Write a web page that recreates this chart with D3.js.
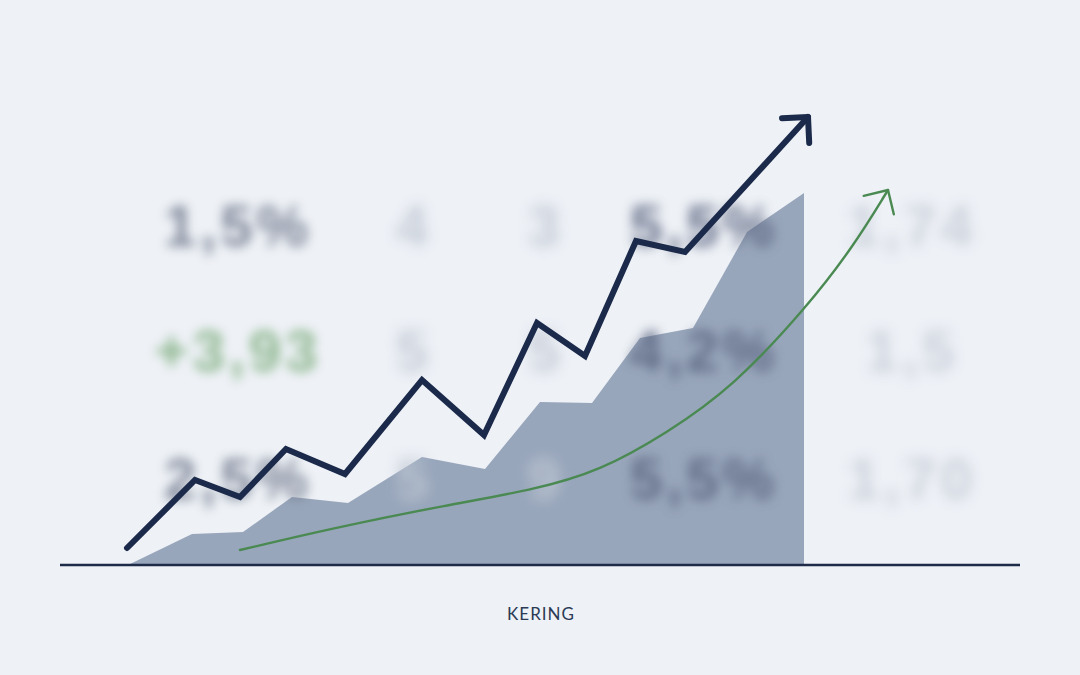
<!DOCTYPE html>
<html>
<head>
<meta charset="utf-8">
<script src="https://cdn.jsdelivr.net/npm/d3@7"></script>
<style>
  html, body { margin: 0; padding: 0; background: #eef1f6; }
  svg { display: block; }
</style>
</head>
<body>
<svg id="chart" width="1080" height="675"></svg>
<script>
// ---------------- DATA ----------------
const label = "KERING";

// main (navy) zig-zag series: period, value
const mainX = [67, 135, 180, 226, 285, 362, 424, 477, 525, 576, 625, 748];
const mainY = [17, 85, 68, 116, 91, 185, 130, 242, 209, 324, 313, 448];

// filled area series
const areaX = [68, 132, 183, 232, 288, 362, 425, 480, 532, 580, 633, 687, 744];
const areaY = [0, 31, 33, 68, 62, 108, 96, 163, 162, 227, 237, 333, 372];

// green trend curve
const trendX = [180, 273, 387, 473, 540, 607, 673, 747, 793, 828];
const trendY = [15, 37, 60, 75, 94, 132, 178, 258, 318, 375];

// blurred background figures (rows x columns)
const bgRow1 = ["1,5%", "4", "3", "5,5%", "1,74"];
const bgRow2 = ["+3,93", "5", "5", "4,2%", "1,5"];
const bgRow3 = ["2,5%", "5", "9", "5,5%", "1,70"];

// ---------------- LAYOUT ----------------
const W = 1080, H = 675;
const plot = { left: 60, right: 1020, top: 65, bottom: 565 };
const colCenters = [238, 414, 546, 704, 912];
const rowBaselines = [246, 371, 499];
const colStyle = [
  { fill: "#727c8e", blur: 5.5 },
  { fill: "#c0c7d3", blur: 6.5 },
  { fill: "#c0c7d3", blur: 6.5 },
  { fill: "#5a6580", blur: 6 },
  { fill: "#c6ccd7", blur: 6.5 }
];

const svg = d3.select("#chart");
const defs = svg.append("defs");

[5.5, 6, 6.5].forEach(s => {
  defs.append("filter").attr("id", "blur" + String(s).replace(".", "_"))
    .attr("x", "-30%").attr("y", "-60%").attr("width", "160%").attr("height", "220%")
    .append("feGaussianBlur").attr("stdDeviation", s);
});

function chevron(id, color, len, sw) {
  const a = len / Math.SQRT2;
  defs.append("marker").attr("id", id)
    .attr("markerUnits", "userSpaceOnUse")
    .attr("viewBox", `${-a - sw} ${-a - sw} ${a + 2 * sw} ${2 * a + 2 * sw}`)
    .attr("refX", 0).attr("refY", 0)
    .attr("markerWidth", a + 2 * sw).attr("markerHeight", 2 * a + 2 * sw)
    .attr("orient", "auto")
    .append("path")
    .attr("d", `M${-a},${-a}L0,0L${-a},${a}`)
    .attr("fill", "none").attr("stroke", color)
    .attr("stroke-width", sw).attr("stroke-linecap", "round").attr("stroke-linejoin", "round");
}
chevron("arrowNavy", "#1b2a4a", 26, 6);
chevron("arrowGreen", "#4a8a52", 25, 2.4);

svg.append("rect").attr("width", W).attr("height", H).attr("fill", "#eef1f6");

// scales
const x = d3.scaleLinear().domain([0, 960]).range([plot.left, plot.right]);
const y = d3.scaleLinear().domain([0, 500]).range([plot.bottom, plot.top]);

// area
const areaData = areaX.map((v, i) => ({ x: v, y: areaY[i] }));
svg.append("path")
  .datum(areaData)
  .attr("fill", "#98a6bb")
  .attr("d", d3.area().x(d => x(d.x)).y0(y(0)).y1(d => y(d.y)));

// blurred background numbers
[bgRow1, bgRow2, bgRow3].forEach((row, r) => {
  row.forEach((t, c) => {
    const st = colStyle[c];
    const fill = (r === 1 && c === 0) ? "#82b083" : st.fill;
    svg.append("text")
      .attr("x", colCenters[c]).attr("y", rowBaselines[r])
      .attr("text-anchor", "middle")
      .attr("font-family", "Liberation Sans, Arial, sans-serif")
      .attr("font-weight", "bold")
      .attr("font-size", 58)
      .attr("letter-spacing", 4)
      .attr("fill", fill)
      .attr("opacity", 0.9)
      .attr("filter", `url(#blur${String(st.blur).replace(".", "_")})`)
      .text(t);
  });
});

// baseline
svg.append("line")
  .attr("x1", x(0)).attr("x2", x(960))
  .attr("y1", y(0)).attr("y2", y(0))
  .attr("stroke", "#1e2b48").attr("stroke-width", 2.5);

// green trend curve
const trendData = trendX.map((v, i) => ({ x: v, y: trendY[i] }));
svg.append("path")
  .datum(trendData)
  .attr("fill", "none")
  .attr("stroke", "#4a8a52")
  .attr("stroke-width", 2.4)
  .attr("stroke-linecap", "round")
  .attr("marker-end", "url(#arrowGreen)")
  .attr("d", d3.line().x(d => x(d.x)).y(d => y(d.y)).curve(d3.curveBasis));

// main navy line
const mainData = mainX.map((v, i) => ({ x: v, y: mainY[i] }));
svg.append("path")
  .datum(mainData)
  .attr("fill", "none")
  .attr("stroke", "#1b2a4a")
  .attr("stroke-width", 6)
  .attr("stroke-linecap", "round")
  .attr("stroke-linejoin", "miter")
  .attr("marker-end", "url(#arrowNavy)")
  .attr("d", d3.line().x(d => x(d.x)).y(d => y(d.y)));

// label
svg.append("text")
  .attr("x", 541).attr("y", 620)
  .attr("text-anchor", "middle")
  .attr("font-family", "Lato, 'Open Sans', sans-serif")
  .attr("font-size", 17)
  .attr("letter-spacing", 1)
  .attr("fill", "#2b3a55")
  .text(label);
</script>
</body>
</html>
